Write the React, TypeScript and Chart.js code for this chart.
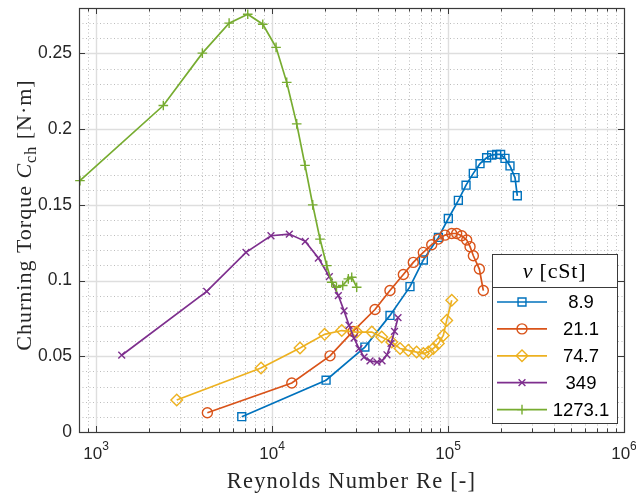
import React, { useEffect, useRef } from 'react';
import { Chart, registerables } from 'chart.js';

Chart.register(...registerables);

// ---------- data ----------
const seriesLabels = ['8.9', '21.1', '74.7', '349', '1273.1'];
const seriesColors = ['#0072BD', '#D95319', '#EDB120', '#7E2F8E', '#77AC30'];
const seriesMarkers = ['rect', 'circle', 'rectRot', 'crossRot', 'cross'];
const markerRadius = [5.6, 5.0, 5.8, 4.8, 4.8];

const re_8_9 = [6730, 20280, 33700, 46800, 60800, 72400, 88200, 100400, 114500, 126600, 139200, 152000, 165700, 177000, 189000, 199000, 210700, 225000, 240200, 247600];
const torque_8_9 = [0.0101, 0.0342, 0.0561, 0.0770, 0.0960, 0.1136, 0.1285, 0.1410, 0.1530, 0.1630, 0.1708, 0.1772, 0.1811, 0.1829, 0.1833, 0.1833, 0.1807, 0.1757, 0.1680, 0.1560];

const re_21_1 = [4290, 12950, 21360, 28840, 38460, 46770, 55730, 63490, 72360, 80790, 88110, 96150, 104950, 112000, 119600, 127700, 133400, 139300, 150700, 158700];
const torque_21_1 = [0.0127, 0.0324, 0.0503, 0.0664, 0.0809, 0.0934, 0.1040, 0.1120, 0.1186, 0.1237, 0.1274, 0.1300, 0.1311, 0.1311, 0.1296, 0.1268, 0.1224, 0.1164, 0.1076, 0.0934];

const re_74_7 = [2874, 8660, 14420, 19900, 24900, 30300, 36900, 42000, 47900, 53400, 59500, 66300, 72400, 77300, 82500, 88100, 94000, 98300, 105000];
const torque_74_7 = [0.0211, 0.0423, 0.0555, 0.0645, 0.0670, 0.0660, 0.0660, 0.0627, 0.0594, 0.0551, 0.0539, 0.0528, 0.0518, 0.0528, 0.0551, 0.0584, 0.0638, 0.0737, 0.0870];

const re_349 = [1399, 4255, 7112, 9860, 12540, 15450, 18330, 21170, 23810, 25660, 27390, 29240, 31200, 33320, 36040, 39510, 42170, 44990, 47430, 49660, 51980];
const torque_349 = [0.0507, 0.0928, 0.1186, 0.1296, 0.1307, 0.1259, 0.1149, 0.1026, 0.0901, 0.0800, 0.0705, 0.0620, 0.0550, 0.0495, 0.0470, 0.0462, 0.0470, 0.0510, 0.0585, 0.0665, 0.0755];

const re_1273_1 = [810, 2411, 4019, 5703, 7277, 8857, 10540, 12120, 13810, 15400, 17030, 18730, 20460, 21830, 23240, 25220, 27130, 28370, 30270];
const torque_1273_1 = [0.166, 0.2156, 0.2502, 0.2700, 0.2759, 0.2693, 0.2540, 0.2309, 0.2035, 0.1761, 0.1500, 0.1274, 0.1099, 0.0989, 0.0956, 0.0967, 0.1011, 0.1022, 0.0956];

const seriesRe = [re_8_9, re_21_1, re_74_7, re_349, re_1273_1];
const seriesTorque = [torque_8_9, torque_21_1, torque_74_7, torque_349, torque_1273_1];

const xTickExponents = [3, 4, 5, 6];
const yTickValues = [0, 0.05, 0.1, 0.15, 0.2, 0.25];
const yMinorStep = 0.01;
const X_MIN = 800;
const X_MAX = 1e6;
const Y_MIN = 0;
const Y_MAX = 0.28;

const xTitle = 'Reynolds Number Re [-]';
const yTitleParts = ['Churning Torque ', 'C', 'ch', ' [N\u00b7m]'];
const legendTitleParts = ['\u03bd', ' [cSt]'];

// ---------- styling ----------
const SANS = '"Liberation Sans", Arial, sans-serif';
const SERIF = '"Liberation Serif", "Times New Roman", serif';
const AXIS_COLOR = '#3a3a3a';
const TEXT_COLOR = '#262626';

type Run = { t: string; f: string; dy?: number };

function drawRuns(ctx: CanvasRenderingContext2D, runs: Run[], cx: number, baseline: number, spacing: number) {
  (ctx as any).letterSpacing = spacing + 'px';
  let total = 0;
  const ws = runs.map((r) => {
    ctx.font = r.f;
    const w = ctx.measureText(r.t).width;
    total += w;
    return w;
  });
  let x = cx - total / 2;
  ctx.textAlign = 'left';
  ctx.textBaseline = 'alphabetic';
  runs.forEach((r, i) => {
    ctx.font = r.f;
    ctx.fillText(r.t, x, baseline + (r.dy || 0));
    x += ws[i];
  });
  (ctx as any).letterSpacing = '0px';
}

function drawMarker(ctx: CanvasRenderingContext2D, style: string, x: number, y: number, r: number) {
  ctx.beginPath();
  if (style === 'rect') {
    const s = r * Math.SQRT1_2;
    ctx.rect(x - s, y - s, 2 * s, 2 * s);
  } else if (style === 'circle') {
    ctx.arc(x, y, r, 0, Math.PI * 2);
  } else if (style === 'rectRot') {
    ctx.moveTo(x - r, y);
    ctx.lineTo(x, y - r);
    ctx.lineTo(x + r, y);
    ctx.lineTo(x, y + r);
    ctx.closePath();
  } else if (style === 'crossRot') {
    const s = r * Math.SQRT1_2;
    ctx.moveTo(x - s, y - s);
    ctx.lineTo(x + s, y + s);
    ctx.moveTo(x - s, y + s);
    ctx.lineTo(x + s, y - s);
  } else if (style === 'cross') {
    ctx.moveTo(x - r, y);
    ctx.lineTo(x + r, y);
    ctx.moveTo(x, y - r);
    ctx.lineTo(x, y + r);
  }
  ctx.stroke();
}

const decorPlugin = {
  id: 'decor',
  beforeDatasetsDraw(chart: any) {
    const { ctx, chartArea: a, scales } = chart;
    const xs = scales.x;
    const ys = scales.y;
    ctx.save();
    // minor grid (dotted)
    ctx.strokeStyle = '#bdbdbd';
    ctx.lineWidth = 1;
    ctx.setLineDash([1, 2.5]);
    ctx.beginPath();
    for (let d = 2; d <= 5; d++) {
      for (let m = 2; m <= 9; m++) {
        const v = m * Math.pow(10, d);
        if (v <= X_MIN || v >= X_MAX) continue;
        const px = Math.round(xs.getPixelForValue(v)) + 0.5;
        ctx.moveTo(px, a.top);
        ctx.lineTo(px, a.bottom);
      }
    }
    for (let v = Y_MIN + yMinorStep; v < Y_MAX - 1e-9; v += yMinorStep) {
      const k = Math.round(v * 100);
      if (k % 5 === 0) continue;
      const py = Math.round(ys.getPixelForValue(v)) + 0.5;
      ctx.moveTo(a.left, py);
      ctx.lineTo(a.right, py);
    }
    ctx.stroke();
    // major grid
    ctx.setLineDash([]);
    ctx.strokeStyle = '#dedede';
    ctx.lineWidth = 1.4;
    ctx.beginPath();
    xTickExponents.forEach((e) => {
      const v = Math.pow(10, e);
      if (v <= X_MIN || v >= X_MAX) return;
      const px = Math.round(xs.getPixelForValue(v)) + 0.5;
      ctx.moveTo(px, a.top);
      ctx.lineTo(px, a.bottom);
    });
    yTickValues.forEach((v) => {
      if (v <= Y_MIN || v >= Y_MAX) return;
      const py = Math.round(ys.getPixelForValue(v)) + 0.5;
      ctx.moveTo(a.left, py);
      ctx.lineTo(a.right, py);
    });
    ctx.stroke();
    ctx.restore();
  },
  afterDatasetsDraw(chart: any) {
    const { ctx, chartArea: a, scales } = chart;
    const xs = scales.x;
    const ys = scales.y;
    ctx.save();
    // box
    ctx.strokeStyle = AXIS_COLOR;
    ctx.lineWidth = 1.2;
    ctx.strokeRect(a.left + 0.5, a.top + 0.5, a.right - a.left, a.bottom - a.top);
    // ticks
    ctx.lineWidth = 1;
    ctx.beginPath();
    const majorLen = 6;
    const minorLen = 3.5;
    for (let d = 2; d <= 5; d++) {
      for (let m = 2; m <= 9; m++) {
        const v = m * Math.pow(10, d);
        if (v <= X_MIN || v >= X_MAX) continue;
        const px = Math.round(xs.getPixelForValue(v)) + 0.5;
        ctx.moveTo(px, a.bottom);
        ctx.lineTo(px, a.bottom - minorLen);
        ctx.moveTo(px, a.top);
        ctx.lineTo(px, a.top + minorLen);
      }
    }
    xTickExponents.forEach((e) => {
      const px = Math.round(xs.getPixelForValue(Math.pow(10, e))) + 0.5;
      ctx.moveTo(px, a.bottom);
      ctx.lineTo(px, a.bottom - majorLen);
      ctx.moveTo(px, a.top);
      ctx.lineTo(px, a.top + majorLen);
    });
    yTickValues.forEach((v) => {
      const py = Math.round(ys.getPixelForValue(v)) + 0.5;
      ctx.moveTo(a.left, py);
      ctx.lineTo(a.left + majorLen, py);
      ctx.moveTo(a.right, py);
      ctx.lineTo(a.right - majorLen, py);
    });
    ctx.stroke();

    // y tick labels
    ctx.fillStyle = TEXT_COLOR;
    ctx.font = '17.5px ' + SANS;
    ctx.textAlign = 'right';
    ctx.textBaseline = 'middle';
    yTickValues.forEach((v) => {
      const py = ys.getPixelForValue(v);
      ctx.fillText(String(+v.toFixed(2)), a.left - 7, py);
    });

    // x tick labels 10^k
    xTickExponents.forEach((e) => {
      const px = xs.getPixelForValue(Math.pow(10, e));
      drawRuns(
        ctx,
        [
          { t: '10', f: '17px ' + SANS },
          { t: String(e), f: '12px ' + SANS, dy: -9 },
        ],
        px,
        a.bottom + 27,
        0
      );
    });

    // axis titles
    ctx.fillStyle = TEXT_COLOR;
    drawRuns(ctx, [{ t: xTitle, f: '22.5px ' + SERIF }], (a.left + a.right) / 2, 488, 1.2);

    ctx.save();
    ctx.translate(31, (a.top + a.bottom) / 2 - 5);
    ctx.rotate(-Math.PI / 2);
    drawRuns(
      ctx,
      [
        { t: yTitleParts[0], f: '22px ' + SERIF },
        { t: yTitleParts[1], f: 'italic 22px ' + SERIF },
        { t: yTitleParts[2], f: '16px ' + SERIF, dy: 5 },
        { t: yTitleParts[3], f: '22px ' + SERIF },
      ],
      0,
      0,
      1
    );
    ctx.restore();

    // legend
    const lx0 = 492;
    const lx1 = 617;
    const ly0 = 254;
    const ly1 = 423;
    ctx.fillStyle = '#ffffff';
    ctx.fillRect(lx0, ly0, lx1 - lx0, ly1 - ly0);
    ctx.strokeStyle = AXIS_COLOR;
    ctx.lineWidth = 1;
    ctx.strokeRect(lx0 + 0.5, ly0 + 0.5, lx1 - lx0, ly1 - ly0);
    ctx.beginPath();
    ctx.moveTo(lx0, 287.5);
    ctx.lineTo(lx1, 287.5);
    ctx.stroke();
    ctx.fillStyle = '#000';
    drawRuns(
      ctx,
      [
        { t: legendTitleParts[0], f: 'italic 22px ' + SERIF },
        { t: legendTitleParts[1], f: '22px ' + SERIF },
      ],
      (lx0 + lx1) / 2,
      278,
      0.8
    );
    seriesLabels.forEach((lab, i) => {
      const y = 302 + i * 26.9;
      ctx.strokeStyle = seriesColors[i];
      ctx.lineWidth = 1.7;
      ctx.beginPath();
      ctx.moveTo(497, y);
      ctx.lineTo(547, y);
      ctx.stroke();
      ctx.lineWidth = 1.4;
      drawMarker(ctx, seriesMarkers[i], 522, y, markerRadius[i]);
      ctx.fillStyle = '#000';
      ctx.font = '18.5px ' + SANS;
      ctx.textAlign = 'center';
      ctx.textBaseline = 'middle';
      ctx.fillText(lab, 581, y + 1);
    });
    ctx.restore();
  },
};

export default function App() {
  const canvasRef = useRef<HTMLCanvasElement | null>(null);

  useEffect(() => {
    const canvas = canvasRef.current;
    if (!canvas) return;
    const datasets = seriesLabels.map((lab, i) => ({
      label: lab,
      data: seriesRe[i].map((x, j) => ({ x, y: seriesTorque[i][j] })),
      borderColor: seriesColors[i],
      backgroundColor: seriesColors[i],
      pointBackgroundColor: 'rgba(0,0,0,0)',
      pointBorderColor: seriesColors[i],
      pointStyle: seriesMarkers[i] as any,
      pointRadius: markerRadius[i],
      pointBorderWidth: 1.4,
      borderWidth: 1.7,
      tension: 0,
      fill: false,
      clip: false as any,
      order: seriesLabels.length - 1 - i,
    }));

    const chart = new Chart(canvas, {
      type: 'line',
      data: { datasets },
      options: {
        responsive: false,
        animation: false,
        devicePixelRatio: 1,
        layout: { padding: { left: 0, top: 8, right: 12, bottom: 0 } },
        plugins: { legend: { display: false }, tooltip: { enabled: false } },
        scales: {
          x: {
            type: 'logarithmic',
            min: X_MIN,
            max: X_MAX,
            ticks: { display: false },
            grid: { display: false, drawTicks: false },
            border: { display: false },
            afterFit: (s: any) => {
              s.height = 62;
            },
          },
          y: {
            type: 'linear',
            min: Y_MIN,
            max: Y_MAX,
            ticks: { display: false },
            grid: { display: false, drawTicks: false },
            border: { display: false },
            afterFit: (s: any) => {
              s.width = 79;
            },
          },
        },
      } as any,
      plugins: [decorPlugin],
    });
    return () => chart.destroy();
  }, []);

  return (
    <div style={{ position: 'fixed', left: 0, top: 0, width: 636, height: 494, background: '#fff' }}>
      <canvas ref={canvasRef} width={636} height={494} style={{ display: 'block', width: 636, height: 494 }} />
    </div>
  );
}
